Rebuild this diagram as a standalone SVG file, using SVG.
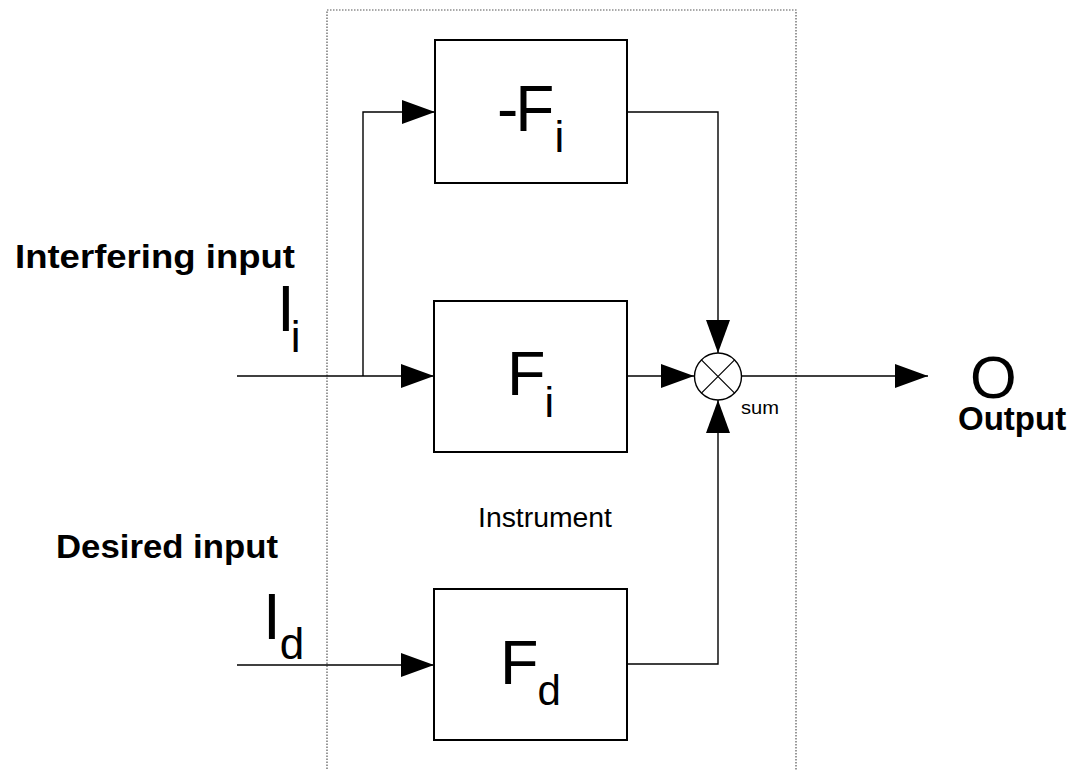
<svg xmlns="http://www.w3.org/2000/svg" width="1071" height="770" viewBox="0 0 1071 770">
  <style>
    .box { fill: #fff; stroke: #000; stroke-width: 2; }
    .wire { fill: none; stroke: #000; stroke-width: 1.4; }
    .frame { fill: none; stroke: #555; stroke-width: 1.2; stroke-dasharray: 1.5 1.5; }
    .big { font-family: "Liberation Sans", Arial, sans-serif; fill: #000; }
    .lbl { font-family: "Liberation Sans", Arial, sans-serif; font-weight: bold; font-size: 33px; fill: #000; }
    .reg { font-family: "Liberation Sans", Arial, sans-serif; fill: #000; }
  </style>
  <defs>
    <marker id="arr" markerUnits="userSpaceOnUse" markerWidth="34" markerHeight="24" refX="33" refY="12" orient="auto">
      <path d="M0,0 L33,12 L0,24 z" fill="#000"/>
    </marker>
  </defs>
  <rect width="1071" height="770" fill="#fff"/>

  <g id="instrument-frame">
    <path class="frame" d="M327,775 L327,10 L796,10 L796,775"/>
    <text class="reg" x="478" y="527" font-size="27" textLength="134" lengthAdjust="spacingAndGlyphs">Instrument</text>
  </g>

  <g id="connectors">
    <path class="wire" d="M237,376 L434,376" marker-end="url(#arr)"/>
    <path class="wire" d="M363,376 L363,112 L435,112" marker-end="url(#arr)"/>
    <path class="wire" d="M627,112 L718,112 L718,353" marker-end="url(#arr)"/>
    <path class="wire" d="M627,376 L694,376" marker-end="url(#arr)"/>
    <path class="wire" d="M627,664 L718,664 L718,400" marker-end="url(#arr)"/>
    <path class="wire" d="M742,376 L928,376" marker-end="url(#arr)"/>
    <path class="wire" d="M237,665 L434,665" marker-end="url(#arr)"/>
  </g>

  <g id="neg-Fi">
    <rect class="box" x="435" y="40" width="192" height="143"/>
    <text class="big" x="497" y="131" font-size="64">-<tspan dx="-3">F</tspan><tspan dy="21" font-size="44">i</tspan></text>
  </g>

  <g id="Fi">
    <rect class="box" x="434" y="301" width="193" height="151"/>
    <text class="big" x="507" y="395" font-size="63">F<tspan dy="22" dx="-1" font-size="43">i</tspan></text>
  </g>

  <g id="Fd">
    <rect class="box" x="434" y="589" width="193" height="151"/>
    <text class="big" x="500" y="684" font-size="63">F<tspan dy="21" dx="-1" font-size="42">d</tspan></text>
  </g>

  <g id="sum">
    <circle cx="718" cy="376.5" r="23.5" fill="#fff" stroke="#000" stroke-width="1.4"/>
    <path d="M701.4,359.9 L734.6,393.1 M734.6,359.9 L701.4,393.1" stroke="#000" stroke-width="1.2"/>
    <text class="reg" x="741" y="414" font-size="19" textLength="38" lengthAdjust="spacingAndGlyphs">sum</text>
  </g>

  <g id="interfering-input">
    <text class="lbl" x="15" y="268" textLength="280" lengthAdjust="spacingAndGlyphs">Interfering input</text>
    <text class="big" x="277" y="331" font-size="64">I<tspan dy="21" dx="-4" font-size="44">i</tspan></text>
  </g>

  <g id="desired-input">
    <text class="lbl" x="56" y="558" textLength="222" lengthAdjust="spacingAndGlyphs">Desired input</text>
    <text class="big" x="263" y="639" font-size="64">I<tspan dy="20" dx="-1" font-size="44">d</tspan></text>
  </g>

  <g id="output">
    <text class="big"><tspan x="970" y="398" font-size="60">O</tspan><tspan class="lbl" x="958" y="430" font-weight="bold" font-size="32">Output</tspan></text>
  </g>
</svg>
